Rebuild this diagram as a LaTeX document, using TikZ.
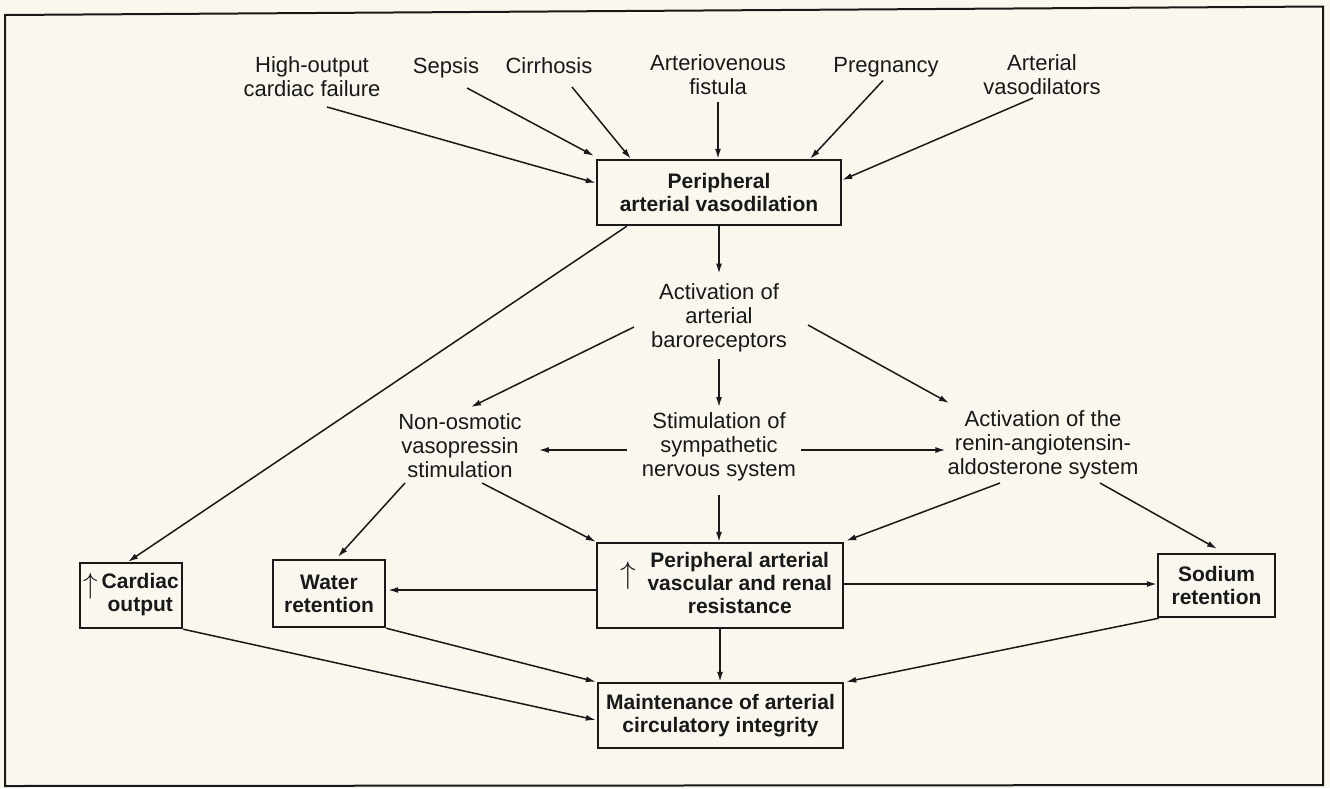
\documentclass[tikz,border=0pt]{standalone}
\usepackage{fontspec}
\usepackage{graphicx}
\setmainfont{Liberation Sans}
\usetikzlibrary{arrows.meta,calc}
\definecolor{paper}{RGB}{250,247,239}
\definecolor{ink}{RGB}{25,25,25}
\begin{document}
\begin{tikzpicture}[x=1pt,y=-1pt,
  txt/.style={font=\fontsize{22}{24}\selectfont, align=center, inner sep=0pt, text=ink},
  box/.style={draw=ink, line width=2.4pt, font=\bfseries\fontsize{21}{23}\selectfont, align=center, inner sep=0pt, text=ink},
  boxt/.style={draw=ink, line width=2.4pt, font=\bfseries\fontsize{21}{23}\selectfont, inner sep=0pt, text=ink},
  arr/.style={draw=ink, line width=1.5pt, -{Latex[length=10pt,width=6pt]}}]
\fill[paper] (0,0) rectangle (1330,788);
\useasboundingbox (0,0) rectangle (1330,788);
\draw[ink, line width=2pt] (5,15) -- (1323,6.5) -- (1323,785) -- (5,786) -- cycle;

% top causes
\node[txt] (hocf) at (312,77) {High-output\\cardiac failure};
\node[txt] (sepsis) at (446,67.5) {Sepsis};
\node[txt] (cirr) at (549,65.5) {Cirrhosis};
\node[txt] (avf) at (718,75) {Arteriovenous\\fistula};
\node[txt] (preg) at (886,67.5) {Pregnancy};
\node[txt] (vaso) at (1042,75) {Arterial\\vasodilators};

\node[box, minimum width=244pt, minimum height=65pt] (pav) at (719,192.5) {Peripheral\\arterial vasodilation};

\node[txt] (baro) at (719,318) {Activation of\\arterial\\baroreceptors};
\node[txt] (nonosm) at (460,446) {Non-osmotic\\vasopressin\\stimulation};
\node[txt] (symp) at (719,446.5) {Stimulation of\\sympathetic\\nervous system};
\node[txt] (raas) at (1043,444.5) {Activation of the\\renin-angiotensin-\\aldosterone system};

\node[boxt, minimum width=102pt, minimum height=65pt] (cardiac) at (131,595.5)
  {\raisebox{7pt}{\scalebox{1.4}{$\uparrow$}}\hspace{4pt}\begin{tabular}{@{}c@{}}Cardiac\\output\end{tabular}};
\node[box, minimum width=112pt, minimum height=67pt] (water) at (329,593.5) {Water\\retention};
\node[boxt, minimum width=246pt, minimum height=85pt] (pavr) at (720,585.5)
  {\hspace*{12pt}\raisebox{7pt}{\scalebox{1.5}{$\uparrow$}}\hspace{12pt}\begin{tabular}{@{}c@{}}Peripheral arterial\\vascular and renal\\resistance\end{tabular}};
\node[box, minimum width=117pt, minimum height=63pt] (sodium) at (1216.5,585.5) {Sodium\\retention};
\node[box, minimum width=245pt, minimum height=65pt] (maint) at (720.5,715.5) {Maintenance of arterial\\circulatory integrity};

% connectors
\draw[arr] ($(hocf.center)+(15,30)$) -- ($(pav.west)+(0,-9.5)$);
\draw[arr] ($(sepsis.center)+(21,20.5)$) -- ($(pav.north west)+(-2,-3)$);
\draw[arr] ($(cirr.center)+(23,21.5)$) -- ($(pav.north west)+(35,0)$);
\draw[arr] ($(avf.center)+(0,27)$) -- (avf.center |- pav.north);
\draw[arr] ($(preg.center)+(-3,13)$) -- ($(pav.north east)+(-32,0)$);
\draw[arr] ($(vaso.center)+(-9,23)$) -- ($(pav.east)+(0,-12.5)$);
\draw[arr] (pav.south) -- ($(baro.north)+(0,-10)$);
\draw[arr] ($(pav.south west)+(31,0)$) -- ($(cardiac.north)+(-3,0)$);
\draw[arr] ($(baro.center)+(-85,9)$) -- ($(nonosm.center)+(11,-39)$);
\draw[arr] ($(baro.south)+(0,7)$) -- ($(symp.north)+(0,-5)$);
\draw[arr] ($(baro.center)+(89,7)$) -- ($(raas.center)+(-94,-41.5)$);
\draw[arr] ($(symp.west)+(-15,3.5)$) -- ($(nonosm.east)+(17,4)$);
\draw[arr] ($(symp.east)+(5,3.5)$) -- ($(raas.west)+(-2,5.5)$);
\draw[arr] ($(nonosm.center)+(-55,37)$) -- ($(water.north)+(9,-2)$);
\draw[arr] ($(nonosm.center)+(22,37)$) -- (pavr.north west);
\draw[arr] ($(symp.south)+(0,14)$) -- (symp.south |- pavr.north);
\draw[arr] ($(raas.center)+(-43,38.5)$) -- ($(pavr.north east)+(2,-1)$);
\draw[arr] ($(raas.center)+(57,38.5)$) -- ($(sodium.north)+(0.5,-4)$);
\draw[arr] ($(pavr.west)+(0,4.5)$) -- ($(water.east)+(2,-3.5)$);
\draw[arr] ($(pavr.east)+(0,-1.5)$) -- ($(sodium.west)+(0,-1.5)$);
\draw[arr] (cardiac.south east) -- ($(maint.west)+(-1,4.5)$);
\draw[arr] (water.south east) -- ($(maint.north west)+(-1,0)$);
\draw[arr] (pavr.south) -- (pavr.south |- maint.north);
\draw[arr] ($(sodium.south west)+(2,0)$) -- ($(maint.north east)+(2,0)$);
\end{tikzpicture}
\end{document}
